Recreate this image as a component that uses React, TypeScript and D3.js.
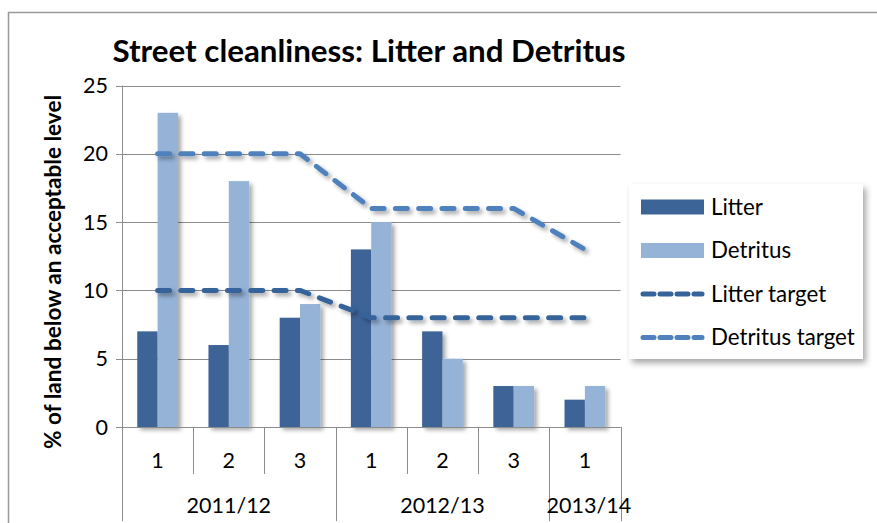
import React from "react";
import * as d3 from "d3";

const quarters = ["1", "2", "3", "1", "2", "3", "1"];
const years = ["2011/12", "2012/13", "2013/14"];
const yearSpans = [3, 3, 1];
const litter = [7, 6, 8, 13, 7, 3, 2];
const detritus = [23, 18, 9, 15, 5, 3, 3];
const litterTarget = [10, 10, 10, 8, 8, 8, 8];
const detritusTarget = [20, 20, 20, 16, 16, 16, 13];
const yTicks = [0, 5, 10, 15, 20, 25];
const seriesNames = ["Litter", "Detritus"];
const legendNames = ["Litter", "Detritus", "Litter target", "Detritus target"];

const C_LITTER = "#3D6497";
const C_DETRITUS = "#95B3D7";
const C_LT = "#36639A";
const C_DT = "#4F81BD";
const FONT = "Lato, 'Open Sans', sans-serif";

export default function App() {
  const W = 877, H = 523;
  const left = 122, right = 620.5, top = 85.5, bottom = 427;
  const x = d3.scaleBand<number>().domain(d3.range(quarters.length)).range([left, right]).padding(0);
  const xs = d3.scaleBand<string>().domain(seriesNames).range([0, x.step()]).paddingInner(0).paddingOuter(0.75);
  const y = d3.scaleLinear().domain([0, 25]).range([bottom, top]);
  const line = d3.line<number>().x((_, i) => (x(i) as number) + x.bandwidth() / 2).y((d) => y(d));

  const yearStarts: number[] = [];
  let acc = 0;
  yearSpans.forEach((s) => { yearStarts.push(acc); acc += s; });
  const gridColor = "#8c8c8c";
  const FS = 21.5;

  return (
    <svg width={W} height={H} style={{ position: "absolute", left: 0, top: 0, display: "block", background: "#fff" }}>
      <defs>
        <filter id="sh" x="-30%" y="-10%" width="160%" height="130%">
          <feDropShadow dx="3" dy="3" stdDeviation="2" floodColor="#000" floodOpacity="0.35" />
        </filter>
        <filter id="shl" x="-10%" y="-10%" width="130%" height="130%">
          <feDropShadow dx="3" dy="4" stdDeviation="3" floodColor="#000" floodOpacity="0.35" />
        </filter>
      </defs>
      {/* frame */}
      <path d={`M8.5,${H + 2} L8.5,12.5 L${W + 2},12.5`} fill="none" stroke="#999" strokeWidth={1.5} />

      <text x={369} y={62} textAnchor="middle" fontFamily={FONT} fontWeight="bold" fontSize={31.3} fill="#000">
        Street cleanliness: Litter and  Detritus
      </text>

      {/* gridlines */}
      {yTicks.map((t) => (
        <g key={t}>
          <line x1={left - 6} x2={right} y1={Math.round(y(t)) + 0.5} y2={Math.round(y(t)) + 0.5} stroke={gridColor} strokeWidth={1} />
          <text x={108} y={y(t) + 7.5} textAnchor="end" fontFamily={FONT} fontSize={FS} fill="#000">{t}</text>
        </g>
      ))}
      {/* y axis line */}
      <line x1={left + 0.5} x2={left + 0.5} y1={top} y2={bottom} stroke={gridColor} />

      <text transform={`translate(61,${272}) rotate(-90)`} textAnchor="middle" fontFamily={FONT} fontWeight="bold" fontSize={22.6} fill="#000">
        % of land below an acceptable level
      </text>

      {/* bars */}
      <g filter="url(#sh)">
        {litter.map((v, i) => (
          <rect key={"l" + i} x={(x(i) as number) + (xs("Litter") as number)} y={y(v)} width={xs.bandwidth()} height={bottom - y(v)} fill={C_LITTER} />
        ))}
        {detritus.map((v, i) => (
          <rect key={"d" + i} x={(x(i) as number) + (xs("Detritus") as number)} y={y(v)} width={xs.bandwidth()} height={bottom - y(v)} fill={C_DETRITUS} />
        ))}
      </g>

      {/* target lines */}
      <g filter="url(#sh)">
        <path d={line(detritusTarget) as string} fill="none" stroke={C_DT} strokeWidth={5} strokeDasharray="12,11.3" strokeLinecap="round" strokeLinejoin="round" />
        <path d={line(litterTarget) as string} fill="none" stroke={C_LT} strokeWidth={5} strokeDasharray="12,11.3" strokeLinecap="round" strokeLinejoin="round" />
      </g>

      {/* x axis */}
      <line x1={left - 6} x2={right} y1={bottom + 0.5} y2={bottom + 0.5} stroke={gridColor} />
      {quarters.map((q, i) => {
        const x0 = x(i) as number;
        const isYearStart = yearStarts.includes(i);
        return (
          <g key={"q" + i}>
            <line x1={Math.round(x0) + 0.5} x2={Math.round(x0) + 0.5} y1={bottom} y2={isYearStart ? 521 : 474} stroke={gridColor} />
            <text x={x0 + x.bandwidth() / 2} y={468} textAnchor="middle" fontFamily={FONT} fontSize={FS} fill="#000">{q}</text>
          </g>
        );
      })}
      <line x1={Math.round(right) + 0.5} x2={Math.round(right) + 0.5} y1={bottom} y2={521} stroke={gridColor} />
      {years.map((yr, j) => {
        const s = yearStarts[j];
        const e = s + yearSpans[j];
        const x0 = x(s) as number;
        const x1 = e >= quarters.length ? right : (x(e) as number);
        const shift = j === years.length - 1 ? 4 : 0;
        return (
          <text key={yr} x={(x0 + x1) / 2 + shift} y={513} textAnchor="middle" fontFamily={FONT} fontSize={FS} fill="#000">{yr}</text>
        );
      })}

      {/* legend */}
      <rect x={629} y={184} width={234} height={175} fill="#fff" filter="url(#shl)" />
      {legendNames.map((n, i) => {
        const cy = 207 + i * 43.5;
        return (
          <g key={n}>
            {i === 0 && <rect x={641} y={cy - 7.5} width={63} height={15} fill={C_LITTER} />}
            {i === 1 && <rect x={641} y={cy - 7.5} width={63} height={15} fill={C_DETRITUS} />}
            {i >= 2 && (
              <line x1={643} x2={702} y1={cy} y2={cy} stroke={i === 2 ? C_LT : C_DT} strokeWidth={5} strokeDasharray="11,6" strokeLinecap="round" />
            )}
            <text x={711} y={cy + 7.5} fontFamily={FONT} fontSize={22.3} fill="#000">{n}</text>
          </g>
        );
      })}
    </svg>
  );
}
